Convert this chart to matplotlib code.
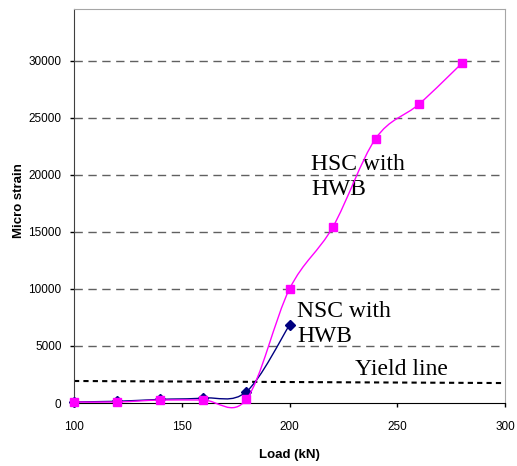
import matplotlib.pyplot as plt
from matplotlib.path import Path
from matplotlib.patches import PathPatch

# load steps (kN) and measured micro strain
load = [100, 120, 140, 160, 180, 200, 220, 240, 260, 280]
hsc_strain = [90, 90, 260, 260, 320, 10000, 15400, 23200, 26200, 29800]

nsc_load = [100, 120, 140, 160, 180, 200]
nsc_strain = [100, 150, 320, 440, 990, 6840]

yield_x = [100, 300]
yield_y = [1930, 1750]

y_ticks = [0, 5000, 10000, 15000, 20000, 25000, 30000]
x_ticks = [100, 150, 200, 250, 300]


def smooth_path(xs, ys):
    # bezier segments through every point, same style as spreadsheet "smoothed line"
    pts = list(zip(xs, ys))
    verts = [pts[0]]
    codes = [Path.MOVETO]
    n = len(pts)
    for i in range(n - 1):
        p0 = pts[i - 1] if i > 0 else pts[i]
        p1 = pts[i]
        p2 = pts[i + 1]
        p3 = pts[i + 2] if i + 2 < n else pts[i + 1]
        c1 = (p1[0] + (p2[0] - p0[0]) / 6, p1[1] + (p2[1] - p0[1]) / 6)
        c2 = (p2[0] - (p3[0] - p1[0]) / 6, p2[1] - (p3[1] - p1[1]) / 6)
        verts += [c1, c2, p2]
        codes += [Path.CURVE4] * 3
    return Path(verts, codes)


fig = plt.figure(figsize=(5.17, 4.66), dpi=100)
ax = fig.add_axes([74 / 517, 1 - 403 / 466, 431 / 517, 394 / 466])

ax.set_xlim(100, 300)
ax.set_ylim(0, 34560)

for y in y_ticks[1:]:
    ax.axhline(y, color='#606060', lw=1, linestyle=(0, (6, 4)), zorder=1)

ax.plot(yield_x, yield_y, color='black', lw=1.5, linestyle=(0, (2.5, 2)), zorder=2)

ax.add_patch(PathPatch(smooth_path(nsc_load, nsc_strain), fill=False,
                       edgecolor='#000080', lw=1, zorder=3, clip_on=False))
ax.plot(nsc_load, nsc_strain, linestyle='none', marker='D', markersize=5,
        color='#000080', zorder=4, clip_on=False)

ax.add_patch(PathPatch(smooth_path(load, hsc_strain), fill=False,
                       edgecolor='#ff00ff', lw=1, zorder=5, clip_on=False))
ax.plot(load, hsc_strain, linestyle='none', marker='s', markersize=6,
        color='#ff00ff', zorder=6, clip_on=False)

serif = 'Liberation Serif'
ax.text(210.0, 20440, 'HSC with', fontsize=17, family=serif, va='baseline')
ax.text(210.0, 18250, 'HWB', fontsize=17, family=serif, va='baseline')
ax.text(203.5, 7540, 'NSC with', fontsize=17, family=serif, va='baseline')
ax.text(203.5, 5350, 'HWB', fontsize=17, family=serif, va='baseline')
ax.text(230.4, 2460, 'Yield line', fontsize=17, family=serif, va='baseline')

ax.set_xticks(x_ticks)
ax.set_yticks(y_ticks)
ax.tick_params(axis='both', direction='out', length=3, width=1, labelsize=8.5)
ax.tick_params(axis='x', pad=10)
ax.tick_params(axis='y', pad=6)
for lab in ax.get_xticklabels() + ax.get_yticklabels():
    lab.set_family('Liberation Sans')

ax.spines['left'].set_color('#404040')
ax.spines['bottom'].set_color('black')
ax.spines['top'].set_color('#a6a6a6')
ax.spines['right'].set_color('#a6a6a6')

ax.set_xlabel('Load (kN)', fontsize=9.5, fontweight='bold', family='Liberation Sans')
ax.set_ylabel('Micro strain', fontsize=9.5, fontweight='bold', family='Liberation Sans')
ax.xaxis.set_label_coords(0.5, -0.118)
ax.yaxis.set_label_coords(-0.114, 0.513)

fig.savefig('out.png', dpi=100)
